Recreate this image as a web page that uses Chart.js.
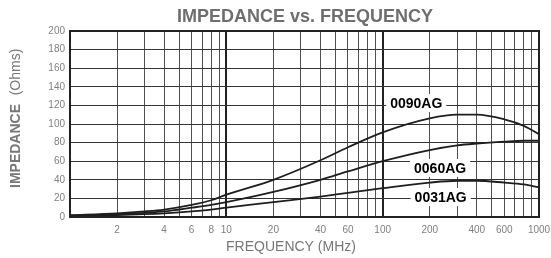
<!DOCTYPE html>
<html>
<head>
<meta charset="utf-8">
<script src="https://cdn.jsdelivr.net/npm/chart.js@4/dist/chart.umd.min.js"></script>
<style>
  html, body { margin: 0; padding: 0; background: #fff; }
  #wrap { width: 551px; height: 258px; }
</style>
</head>
<body>
<div id="wrap"><canvas id="impedanceChart" width="551" height="258"></canvas></div>
<script>
// frequency in MHz, impedance in Ohms
const frequencies = [1, 2, 3, 4, 6, 8, 10, 20, 40, 60, 100, 200, 300, 400, 600, 800, 1000];
const z0090AG = [2, 4, 6, 8, 13, 18, 24, 40, 61, 75, 91, 106, 110, 110, 105, 98, 89];
const z0060AG = [1.5, 3, 4.5, 6, 10, 13, 16, 27, 40, 49, 60, 72, 77, 79, 81, 82, 82];
const z0031AG = [1, 2, 3, 4, 6, 8, 10, 16, 22, 26, 31, 37, 39, 39, 37, 35, 32];

const xGridTicks = [1, 2, 3, 4, 5, 6, 7, 8, 9, 10, 20, 30, 40, 50, 60, 70, 80, 90,
  100, 200, 300, 400, 500, 600, 700, 800, 900, 1000];
const xTickLabels = [2, 4, 6, 8, 10, 20, 40, 60, 100, 200, 400, 600, 1000];
const yTickLabels = [0, 20, 40, 60, 80, 100, 120, 140, 160, 180, 200];

// where the part-number tags sit (MHz, Ohms)
const seriesTags = [
  { text: '0090AG', f: 164, z: 122.5 },
  { text: '0060AG', f: 233, z: 52.7 },
  { text: '0031AG', f: 235, z: 21.5 }
];

const FONT = '"Liberation Sans", Arial, sans-serif';
const toPoints = arr => frequencies.map((f, i) => ({ x: f, y: arr[i] }));

const lineStyle = {
  borderColor: '#1e1e1e',
  borderWidth: 1.8,
  pointRadius: 0,
  tension: 0.4,
  cubicInterpolationMode: 'monotone',
  fill: false
};

const textPlugin = {
  id: 'datasheetText',
  afterDraw(chart) {
    const { ctx, chartArea: a, scales } = chart;
    ctx.save();

    // frame
    ctx.strokeStyle = '#222';
    ctx.lineWidth = 2;
    ctx.strokeRect(a.left, a.top, a.right - a.left, a.bottom - a.top);

    // titles
    ctx.fillStyle = '#6e6e6e';
    ctx.textAlign = 'center';
    ctx.textBaseline = 'middle';
    ctx.font = 'bold 18px ' + FONT;
    ctx.fillText('IMPEDANCE vs. FREQUENCY', 305, 17);

    ctx.fillStyle = '#777';
    ctx.font = '14px ' + FONT;
    ctx.fillText('FREQUENCY (MHz)', 291, 247);

    ctx.translate(16, 0);
    ctx.rotate(-Math.PI / 2);
    ctx.font = 'bold 14px ' + FONT;
    ctx.fillText('IMPEDANCE', -146, 0);
    ctx.font = '14px ' + FONT;
    ctx.fillText('(Ohms)', -72, 0);
    ctx.setTransform(1, 0, 0, 1, 0, 0);

    // part tags with white backing
    ctx.font = 'bold 14px ' + FONT;
    seriesTags.forEach(t => {
      const x = scales.x.getPixelForValue(t.f);
      const y = scales.y.getPixelForValue(t.z);
      const w = ctx.measureText(t.text).width;
      ctx.fillStyle = '#fff';
      ctx.fillRect(x - w / 2 - 4, y - 9, w + 8, 18);
      ctx.fillStyle = '#000';
      ctx.fillText(t.text, x, y + 1);
    });
    ctx.restore();
  }
};

const isDecade = ctx => ctx.tick && (ctx.tick.value === 10 || ctx.tick.value === 100);
const isMajorY = ctx => ctx.tick && ctx.tick.value % 20 === 0;

new Chart(document.getElementById('impedanceChart'), {
  type: 'line',
  data: {
    datasets: [
      { label: '0090AG', data: toPoints(z0090AG), ...lineStyle },
      { label: '0060AG', data: toPoints(z0060AG), ...lineStyle },
      { label: '0031AG', data: toPoints(z0031AG), ...lineStyle }
    ]
  },
  options: {
    responsive: false,
    animation: false,
    layout: { padding: { top: 31, right: 12, left: 0, bottom: 0 } },
    plugins: {
      legend: { display: false },
      tooltip: { enabled: false }
    },
    scales: {
      x: {
        type: 'logarithmic',
        min: 1,
        max: 1000,
        afterBuildTicks: scale => { scale.ticks = xGridTicks.map(v => ({ value: v })); },
        afterFit: scale => { scale.height = 41; scale.paddingRight = 0; scale.paddingLeft = 0; },
        ticks: {
          autoSkip: false,
          maxRotation: 0,
          padding: 7,
          color: '#808080',
          font: { family: FONT, size: 10 },
          callback: v => xTickLabels.includes(v) ? String(v) : ''
        },
        grid: {
          drawTicks: false,
          color: ctx => isDecade(ctx) ? '#222' : '#505050',
          lineWidth: ctx => isDecade(ctx) ? 2 : 1
        },
        border: { display: false }
      },
      y: {
        min: 0,
        max: 200,
        afterFit: scale => { scale.width = 70; },
        ticks: {
          stepSize: 10,
          padding: 5,
          color: '#808080',
          font: { family: FONT, size: 10 },
          callback: v => yTickLabels.includes(v) ? String(v) : ''
        },
        grid: {
          drawTicks: false,
          color: ctx => isMajorY(ctx) ? '#333' : '#8a8a8a',
          lineWidth: 1
        },
        border: { display: false }
      }
    }
  },
  plugins: [textPlugin]
});
</script>
</body>
</html>
